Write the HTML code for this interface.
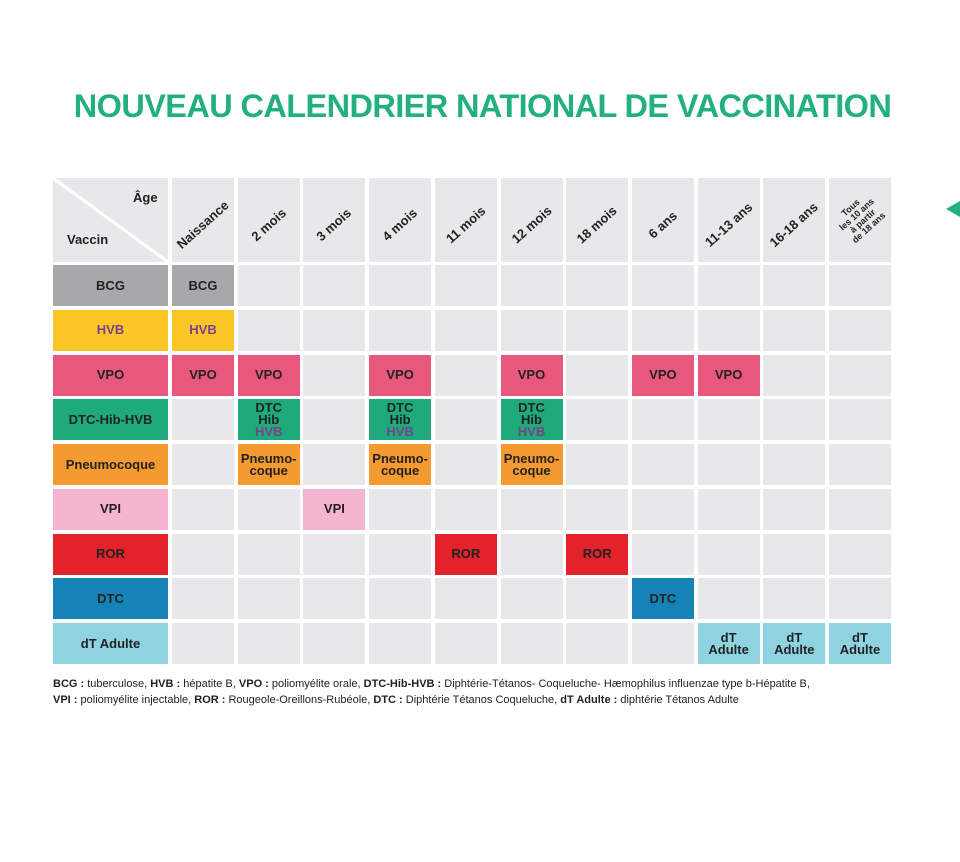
<!DOCTYPE html>
<html><head><meta charset="utf-8"><style>
body{margin:0;width:960px;height:862px;background:#fff;position:relative;overflow:hidden;font-family:"Liberation Sans",sans-serif}
.c{position:absolute;background:#e8e8ea;display:flex;align-items:center;justify-content:center;text-align:center;font-weight:bold;font-size:13px;color:#222;line-height:12px}
.h{position:absolute;font-weight:bold;font-size:13px;color:#222;white-space:nowrap}
#title{position:absolute;left:0;width:965px;top:88px;text-align:center;font-size:32.5px;font-weight:bold;color:#22b07e;letter-spacing:-0.6px}
#legend{position:absolute;left:53px;top:676px;font-size:11px;color:#222;line-height:16px}
</style></head><body>
<div id="title">NOUVEAU CALENDRIER NATIONAL DE VACCINATION</div>
<div style="position:absolute;left:946px;top:201px;width:0;height:0;border-top:8px solid transparent;border-bottom:8px solid transparent;border-right:14px solid #22b07e"></div>
<div id="t"></div>
<div id="legend"><b>BCG :</b> tuberculose, <b>HVB :</b> hépatite B, <b>VPO :</b> poliomyélite orale, <b>DTC-Hib-HVB :</b> Diphtérie-Tétanos- Coqueluche- Hæmophilus influenzae type b-Hépatite B,<br><b>VPI :</b> poliomyélite injectable, <b>ROR :</b> Rougeole-Oreillons-Rubéole, <b>DTC :</b> Diphtérie Tétanos Coqueluche, <b>dT Adulte :</b> diphtérie Tétanos Adulte</div>
<script>
const ages=["Naissance","2 mois","3 mois","4 mois","11 mois","12 mois","18 mois","6 ans","11-13 ans","16-18 ans","Tous|les 10 ans|à partir|de 18 ans"];
const vaccines=["BCG","HVB","VPO","DTC-Hib-HVB","Pneumocoque","VPI","ROR","DTC","dT Adulte"];
const colors=["#a7a8aa","#fcc726","#e8587d","#1eaa7a","#f49a30","#f5b4d0","#e4222b","#1582b8","#8fd3e1"];
const schedule=[[0],[0],[0,1,3,5,7,8],[1,3,5],[1,3,5],[2],[4,6],[7],[8,9,10]];
const cellText={"DTC-Hib-HVB":"DTC<br>Hib<br><span style='color:#7b3f8f'>HVB</span>","Pneumocoque":"Pneumo-<br>coque","dT Adulte":"dT<br>Adulte","HVB":"<span style='color:#7b3f8f'>HVB</span>"};
const t=document.getElementById('t');
const X0=172,PX=65.7,W=62,Y0=265,PY=44.75,H=41;
function mk(cls,x,y,w,h,html,bg){const d=document.createElement('div');d.className=cls;d.style.left=x+'px';d.style.top=y+'px';if(w)d.style.width=w+'px';if(h)d.style.height=h+'px';if(bg)d.style.background=bg;d.innerHTML=html?'<div>'+html+'</div>':'';t.appendChild(d);return d;}
let corner=mk('c',53,178,115,84,'');


corner.innerHTML='<svg width="115" height="84" style="position:absolute;left:0;top:0"><line x1="0" y1="0" x2="115" y2="84" stroke="#fff" stroke-width="3"/></svg><span style="position:absolute;left:80px;top:14px">Âge</span><span style="position:absolute;left:14px;top:56px">Vaccin</span>';
ages.forEach((a,i)=>{const x=X0+i*PX;
 const hc=mk('c',x,178,W,84,'');
 
 
 const multi=a.includes('|');
 const lab=document.createElement('div');lab.className='h';
 lab.innerHTML=a.split('|').join('<br>');
 if(multi){lab.style.fontSize='9px';lab.style.lineHeight='9px';lab.style.textAlign='center';}
 lab.style.left='50%';lab.style.top=multi?'48%':'56%';lab.style.transform='translate(-50%,-50%) rotate(-42deg)';
 
 
 hc.appendChild(lab);
});
vaccines.forEach((v,r)=>{const y=Y0+r*PY;
 const txt=cellText[v]||v;
 const lc=mk('c',53,y,115,H,v==='HVB'?txt:v,colors[r]);
 
 
 ages.forEach((a,i)=>{const on=schedule[r].includes(i);
  const c=mk('c',X0+i*PX,y,W,H,on?txt:'',on?colors[r]:null);
  
  
 });
});
</script>
</body></html>
